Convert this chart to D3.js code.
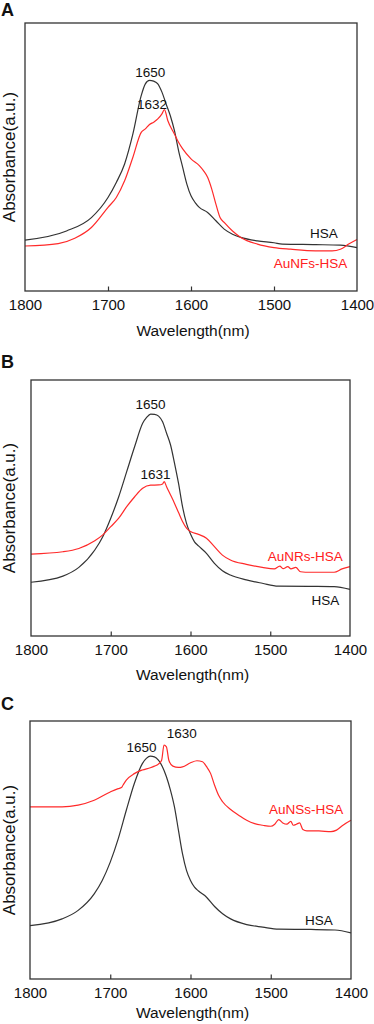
<!DOCTYPE html>
<html>
<head>
<meta charset="utf-8">
<script src="https://cdn.jsdelivr.net/npm/d3@7"></script>
<style>
  html, body { margin: 0; padding: 0; background: #fff; }
  svg { display: block; font-family: "Liberation Sans", Arial, sans-serif; }
</style>
</head>
<body>
<svg id="chart" width="374" height="1024"></svg>
<script>
// ---------- data ----------
const xTicks = [1800, 1700, 1600, 1500, 1400];
const xTitle = "Wavelength(nm)";
const yTitle = "Absorbance(a.u.)";

// Panel A
const aHsaWl  = [1800,1750,1720,1700,1690,1680,1670,1660,1655,1650,1645,1640,1635,1630,1625,1620,1615,1610,1605,1600,1595,1590,1580,1570,1560,1550,1540,1520,1500,1490,1450,1420,1400];
const aHsaVal = [0.190,0.224,0.274,0.349,0.405,0.474,0.586,0.729,0.773,0.786,0.783,0.773,0.742,0.698,0.655,0.599,0.524,0.461,0.399,0.355,0.330,0.312,0.293,0.262,0.231,0.212,0.200,0.187,0.180,0.175,0.173,0.171,0.162];
const aRedWl  = [1800,1760,1740,1720,1700,1690,1680,1670,1660,1655,1650,1645,1640,1635,1632,1628,1620,1615,1610,1600,1590,1585,1580,1575,1570,1565,1560,1550,1540,1520,1500,1480,1450,1430,1420,1410,1400];
const aRedVal = [0.168,0.177,0.197,0.237,0.312,0.349,0.411,0.499,0.592,0.605,0.621,0.630,0.642,0.661,0.677,0.636,0.586,0.555,0.530,0.493,0.468,0.449,0.424,0.380,0.324,0.274,0.256,0.224,0.200,0.175,0.162,0.156,0.150,0.150,0.156,0.175,0.192];

// Panel B
const bHsaWl  = [1800,1760,1740,1720,1710,1700,1690,1680,1670,1660,1655,1650,1645,1640,1635,1630,1625,1620,1615,1610,1605,1600,1595,1590,1580,1570,1560,1550,1530,1510,1490,1450,1420,1400];
const bHsaVal = [0.210,0.234,0.268,0.336,0.388,0.460,0.544,0.642,0.740,0.831,0.854,0.867,0.866,0.859,0.837,0.792,0.746,0.674,0.596,0.505,0.440,0.398,0.368,0.352,0.323,0.284,0.255,0.238,0.219,0.206,0.195,0.194,0.193,0.182];
const bRedWl  = [1800,1760,1740,1720,1710,1700,1690,1680,1670,1660,1650,1640,1635,1633,1630,1625,1620,1615,1610,1605,1600,1590,1580,1570,1560,1550,1530,1510,1495,1488,1484,1478,1474,1468,1462,1450,1430,1420,1410,1400];
const bRedVal = [0.320,0.329,0.342,0.372,0.395,0.427,0.460,0.505,0.544,0.577,0.589,0.590,0.594,0.603,0.583,0.551,0.518,0.482,0.447,0.421,0.408,0.397,0.382,0.349,0.316,0.297,0.280,0.268,0.262,0.273,0.263,0.271,0.262,0.268,0.251,0.249,0.249,0.249,0.262,0.271];

// Panel C
const cHsaWl  = [1800,1760,1740,1720,1710,1700,1690,1680,1670,1660,1655,1650,1645,1640,1635,1630,1625,1620,1615,1610,1605,1600,1595,1590,1580,1570,1560,1550,1530,1510,1490,1450,1420,1400];
const cHsaVal = [0.207,0.233,0.266,0.330,0.382,0.453,0.544,0.654,0.758,0.835,0.855,0.864,0.861,0.848,0.823,0.784,0.732,0.667,0.576,0.486,0.421,0.382,0.356,0.341,0.317,0.281,0.253,0.233,0.211,0.201,0.193,0.192,0.190,0.179];
const cRedWl  = [1800,1760,1740,1720,1700,1690,1686,1684,1680,1670,1660,1650,1645,1640,1636,1633,1630,1627,1622,1615,1610,1600,1592,1585,1580,1575,1570,1565,1560,1550,1540,1530,1520,1510,1500,1495,1490,1485,1480,1475,1472,1468,1464,1460,1455,1440,1425,1418,1410,1400];
const cRedVal = [0.667,0.667,0.674,0.693,0.725,0.738,0.742,0.752,0.771,0.796,0.810,0.819,0.825,0.833,0.848,0.907,0.900,0.848,0.825,0.820,0.822,0.838,0.846,0.842,0.823,0.797,0.751,0.712,0.687,0.657,0.635,0.615,0.602,0.596,0.592,0.600,0.618,0.605,0.600,0.611,0.596,0.600,0.605,0.579,0.574,0.574,0.571,0.577,0.596,0.615];

// annotations: [text, wavelength, value, colour-key]
const aLabels = [["1650",1649,0.800,"k"],["1632",1647,0.679,"k"],["HSA",1440,0.198,"k"],["AuNFs-HSA",1456,0.087,"r"]];
const bLabels = [["1650",1650,0.887,"k"],["1631",1644,0.613,"k"],["AuNRs-HSA",1456,0.293,"r"],["HSA",1431,0.121,"k"]];
const cLabels = [["1650",1661,0.880,"k"],["1630",1611,0.934,"k"],["AuNSs-HSA",1456,0.640,"r"],["HSA",1440,0.209,"k"]];

const panels = [
  {letter:"A", letterY:16,  titleY:336,  box:[25,23,357,291], hsa:[aHsaWl,aHsaVal], red:[aRedWl,aRedVal], labels:aLabels},
  {letter:"B", letterY:368, titleY:680,  box:[31,380,350,636], hsa:[bHsaWl,bHsaVal], red:[bRedWl,bRedVal], labels:bLabels},
  {letter:"C", letterY:710, titleY:1018, box:[30,721,351,979], hsa:[cHsaWl,cHsaVal], red:[cRedWl,cRedVal], labels:cLabels}
];

const colors = {k:"#333333", r:"#ff2a2a"};
const svg = d3.select("#chart");

panels.forEach(p => {
  const [x0,y0,x1,y1] = p.box;
  const x = d3.scaleLinear().domain([1800,1400]).range([x0,x1]);
  const y = d3.scaleLinear().domain([0,1]).range([y1,y0]);
  const g = svg.append("g");

  // panel letter
  g.append("text").attr("x",1).attr("y",p.letterY)
    .attr("font-size",18).attr("font-weight","bold").attr("fill","#111")
    .text(p.letter);

  // lines
  const line = d3.line().x(d=>x(d[0])).y(d=>y(d[1])).curve(d3.curveMonotoneX);
  [[p.hsa,"k"],[p.red,"r"]].forEach(([s,c]) => {
    const pts = s[0].map((w,i)=>[w,s[1][i]]);
    g.append("path").datum(pts).attr("d",line)
      .attr("fill","none").attr("stroke",colors[c]).attr("stroke-width",1.2);
  });

  // x axis
  const ax = g.append("g").attr("transform",`translate(0,${y1})`)
    .call(d3.axisBottom(x).tickValues(xTicks).tickFormat(d3.format("d"))
      .tickSizeInner(-4.5).tickSizeOuter(0).tickPadding(8));
  ax.select(".domain").remove();
  ax.selectAll("line").attr("stroke","#333").attr("stroke-width",1.2);
  ax.selectAll("text").attr("font-size",15).attr("fill","#111")
    .attr("font-family","'Liberation Sans', Arial, sans-serif");
  ax.selectAll(".tick").filter(d=>d===1800||d===1400).select("line").remove();

  // frame
  g.append("rect").attr("x",x0).attr("y",y0).attr("width",x1-x0).attr("height",y1-y0)
    .attr("fill","none").attr("stroke","#333").attr("stroke-width",1.3);

  // titles
  g.append("text").attr("x",(x0+x1)/2 + 2).attr("y",p.titleY)
    .attr("text-anchor","middle").attr("font-size",15.5).attr("fill","#111").text(xTitle);
  g.append("text").attr("transform",`translate(${15},${(y0+y1)/2}) rotate(-90)`)
    .attr("text-anchor","middle").attr("font-size",17).attr("fill","#111").text(yTitle);

  // annotations
  p.labels.forEach(([t,w,v,c]) => {
    g.append("text").attr("x",x(w)).attr("y",y(v))
      .attr("text-anchor","middle").attr("font-size",13.5).attr("fill",c==="r"?"#ff2020":"#111")
      .text(t);
  });
});
</script>
</body>
</html>
